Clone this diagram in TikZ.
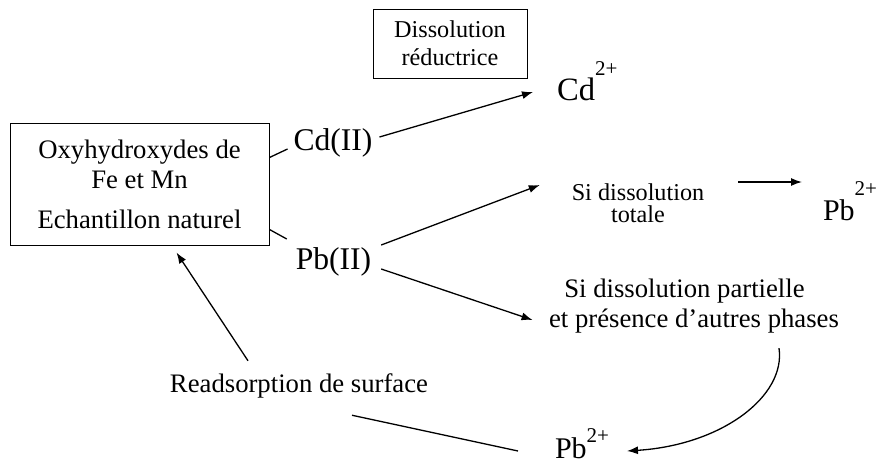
\documentclass[tikz,border=0pt]{standalone}
\usepackage{fontspec}
\setmainfont{Liberation Serif}
\usetikzlibrary{arrows.meta}
\begin{document}
\begin{tikzpicture}[x=0.5pt,y=-0.5pt,
  txt/.style={inner sep=0pt,outer sep=0pt},
  big/.style={txt,font=\fontsize{13.35}{15}\selectfont},
  huge/.style={txt,font=\fontsize{15.8}{18}\selectfont},
  conn/.style={line width=0.65pt},
  arr/.style={conn,-{Latex[length=5.5pt,width=4pt]}}]
\useasboundingbox (0,0) rectangle (878,461);
% boxes
\node[draw,line width=0.5pt,minimum width=77pt,minimum height=34.5pt,inner sep=0pt,align=center,
  font=\fontsize{12.1}{14}\selectfont] (diss) at (450,43.5) {Dissolution\\réductrice};
\node[draw,line width=0.5pt,minimum width=129.5pt,minimum height=61pt,inner sep=0pt,align=center,
  font=\fontsize{13.35}{15}\selectfont] (main) at (139.5,184) {Oxyhydroxydes de\\Fe et Mn\\[5pt]Echantillon naturel};
% labels
\node[huge] (cd) at (333,143) {Cd(II)};
\node[huge] (pb) at (333.5,262) {Pb(II)};
\node[txt,anchor=base west,font=\fontsize{16.3}{18}\selectfont] (cd2) at (557,100)
  {Cd\raisebox{12.5pt}{\fontsize{10.5}{12}\selectfont 2+}};
\node[txt,anchor=base west,font=\fontsize{15}{18}\selectfont] (pb2) at (823,220)
  {Pb\raisebox{12.5pt}{\fontsize{10.5}{12}\selectfont 2+}};
\node[txt,anchor=base west,font=\fontsize{15}{18}\selectfont] (pb3) at (555,458)
  {Pb\raisebox{8pt}{\fontsize{10.5}{12}\selectfont 2+}};
\node[txt,align=center,font=\fontsize{12.1}{11}\selectfont] (tot) at (638,203) {Si dissolution\\totale};
\node[big,align=center] (part) at (694,306) {Si dissolution partielle\hspace*{9.5pt}\\et présence d’autres phases};
\node[big] (rs) at (299,386) {Readsorption de surface};
% connectors
\draw[conn] ([shift={(0,35)}]main.north east) -- ([shift={(-6,6)}]cd.west);
\draw[arr] ([shift={(7,-6)}]cd.east) -- ([shift={(-24,-8)}]cd2.base west);
\draw[conn] ([shift={(0,-16)}]main.south east) -- ([shift={(-9,-23)}]pb.west);
\draw[arr] ([shift={(10,-17)}]pb.east) -- ([shift={(-32,-18)}]tot.west);
\draw[arr] ([shift={(10,7)}]pb.east) -- ([shift={(-16.5,14)}]part.west);
\draw[arr] ([shift={(34,-21)}]tot.east) -- ([shift={(-21,-38)}]pb2.base west);
\draw[arr] ([shift={(85,15)}]part.south) .. controls +(7,48) and +(95,-6) .. ([shift={(72,-7)}]pb3.base west);
\draw[arr] ([shift={(-51,-13)}]rs.north) -- ([shift={(167,7)}]main.south west);
\draw[conn] ([shift={(-37,-7)}]pb3.base west) -- ([shift={(53,17)}]rs.south);
\end{tikzpicture}
\end{document}
